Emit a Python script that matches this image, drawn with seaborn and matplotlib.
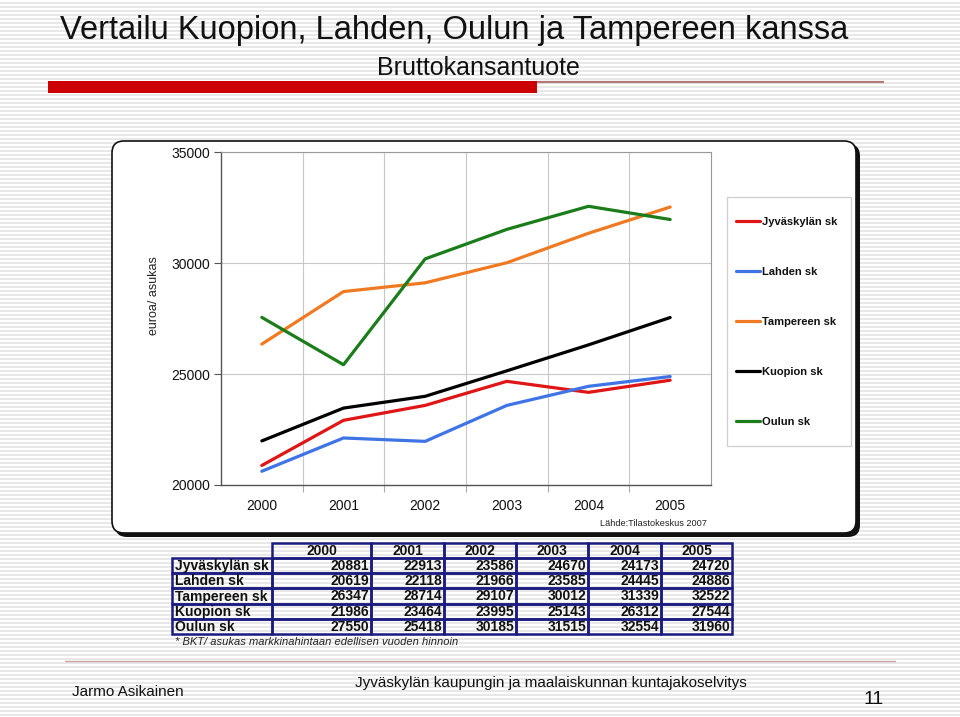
import numpy as np
import pandas as pd
import matplotlib
matplotlib.use("Agg")
import matplotlib.pyplot as plt
import seaborn as sns
from matplotlib.patches import FancyBboxPatch, Rectangle
from matplotlib.ticker import FixedLocator

# ---------------- data ----------------
years = [2000, 2001, 2002, 2003, 2004, 2005]
cities = ["Jyväskylän sk", "Lahden sk", "Tampereen sk", "Kuopion sk", "Oulun sk"]
jyvaskyla = [20881, 22913, 23586, 24670, 24173, 24720]
lahti = [20619, 22118, 21966, 23585, 24445, 24886]
tampere = [26347, 28714, 29107, 30012, 31339, 32522]
kuopio = [21986, 23464, 23995, 25143, 26312, 27544]
oulu = [27550, 25418, 30185, 31515, 32554, 31960]
series = [jyvaskyla, lahti, tampere, kuopio, oulu]
colors = ["#e01515", "#3f74e6", "#f07a22", "#000000", "#1a7d1a"]
y_ticks = [20000, 25000, 30000, 35000]

title = "Vertailu Kuopion, Lahden, Oulun ja Tampereen kanssa"
subtitle = "Bruttokansantuote"
ylabel = "euroa/ asukas"
source = "Lähde:Tilastokeskus 2007"
footnote = "* BKT/ asukas markkinahintaan edellisen vuoden hinnoin"
footer_left = "Jarmo Asikainen"
footer_mid = "Jyväskylän kaupungin ja maalaiskunnan kuntajakoselvitys"
page_no = "11"

df = pd.DataFrame({
    "Vuosi": np.tile(years, len(cities)),
    "Kunta": np.repeat(cities, len(years)),
    "BKT": np.concatenate([np.array(s) for s in series]),
})

# ---------------- style ----------------
sns.set_theme(style="white")
plt.rcParams["font.family"] = ["Liberation Sans", "DejaVu Sans"]

W, H = 960, 717
fig = plt.figure(figsize=(W / 100, H / 100), dpi=100)


def fx(px):
    return px / W


def fy(py):
    return 1 - py / H


# background axes in pixel coordinates
bg = fig.add_axes([0, 0, 1, 1], zorder=-10)
bg.set_xlim(0, W)
bg.set_ylim(H, 0)
bg.axis("off")
stripes = np.array([[1.0] if (i % 4) < 2 else [0.91] for i in range(H)])
bg.imshow(stripes, cmap="gray", vmin=0, vmax=1, aspect="auto",
          extent=(0, W, H, 0), interpolation="nearest")

# title & subtitle
bg.text(60, 31, title, fontsize=23.5, va="center", ha="left", color="#111111")
bg.text(478, 68, subtitle, fontsize=18, va="center", ha="center", color="#111111")
# red bar
bg.add_patch(Rectangle((48, 81), 489, 12, facecolor="#cc0000", edgecolor="none"))
bg.plot([537, 884], [81.8, 81.8], color="#b07a7a", lw=1.6, solid_capstyle="butt")

# chart box with shadow
bg.add_patch(FancyBboxPatch((115, 144), 745, 393, boxstyle="round,pad=0,rounding_size=12",
                            facecolor="#111111", edgecolor="none"))
bg.add_patch(FancyBboxPatch((112, 141), 744, 392, boxstyle="round,pad=0,rounding_size=12",
                            facecolor="white", edgecolor="#111111", lw=1.2))
# legend box
bg.add_patch(Rectangle((727, 197), 124, 249, facecolor="white", edgecolor="#cfcfcf", lw=0.9))
bg.text(707, 523, source, fontsize=6.6, ha="right", va="center", color="#222222")

# footer
bg.plot([65, 895], [661, 661], color="#c9a6a6", lw=1.0)
bg.text(72, 692, footer_left, fontsize=11, ha="left", va="center", color="#111111")
bg.text(355, 683, footer_mid, fontsize=11, ha="left", va="center", color="#111111")
bg.text(884, 700, page_no, fontsize=14, ha="right", va="center", color="#111111")

# ---------------- main plot ----------------
ax = fig.add_axes([fx(221), fy(485), (711 - 221) / W, (485 - 152) / H])
sns.lineplot(data=df, x="Vuosi", y="BKT", hue="Kunta", palette=dict(zip(cities, colors)),
             hue_order=cities, linewidth=2.3, ax=ax, errorbar=None)
ax.set_xlim(years[0] - 0.5, years[-1] + 0.5)
ax.set_ylim(y_ticks[0], y_ticks[-1])
ax.set_xticks(years)
ax.set_xticklabels([str(y) for y in years])
ax.xaxis.set_minor_locator(FixedLocator([y + 0.5 for y in years[:-1]]))
ax.set_yticks(y_ticks)
ax.set_yticklabels([str(v) for v in y_ticks])
ax.set_facecolor("white")
ax.grid(False)
ax.grid(axis="y", which="major", color="#c8c8c8", lw=0.8)
ax.grid(axis="x", which="minor", color="#c8c8c8", lw=0.8)
ax.tick_params(axis="y", which="major", length=5, width=0.8, color="#555555", left=True,
               labelsize=10, pad=3, labelcolor="#111111")
ax.tick_params(axis="x", which="major", length=0, labelsize=10, pad=10, labelcolor="#111111")
ax.tick_params(axis="x", which="minor", length=5, width=0.8, color="#aaaaaa", bottom=True)
for s in ["left", "bottom"]:
    ax.spines[s].set_color("#555555")
    ax.spines[s].set_linewidth(1.0)
for s in ["top", "right"]:
    ax.spines[s].set_color("#999999")
    ax.spines[s].set_linewidth(0.8)
ax.set_xlabel("")
ax.set_ylabel(ylabel, fontsize=9, color="#222222")
ax.yaxis.set_label_coords(-0.125, 0.57)

handles, labels = ax.get_legend_handles_labels()
leg = ax.legend(handles, labels, loc="upper left", bbox_to_anchor=(fx(736), fy(217)),
                bbox_transform=fig.transFigure, frameon=False, borderpad=0, borderaxespad=0,
                handlelength=2.2, handletextpad=0.15, labelspacing=3.6,
                prop={"size": 8, "weight": "bold"})
for t in leg.get_texts():
    t.set_color("#111111")
for h in leg.get_lines():
    h.set_linewidth(2.3)

# ---------------- table ----------------
col_edges = [172, 272, 371, 444, 516, 588, 661, 732]
row_top, head_bot, row_bot = 543, 558, 634
tab = fig.add_axes([0, 0, 1, 1], zorder=5)
tab.set_xlim(0, W)
tab.set_ylim(H, 0)
tab.axis("off")
navy = "#1c1c80"
row_h = (row_bot - head_bot) / len(cities)
for x0, x1 in zip(col_edges[1:-1], col_edges[2:]):
    tab.add_patch(Rectangle((x0, row_top), x1 - x0, head_bot - row_top, fill=False, edgecolor=navy, lw=1.8))
for i, yv in enumerate(years):
    cx = (col_edges[i + 1] + col_edges[i + 2]) / 2
    tab.text(cx, (row_top + head_bot) / 2 + 0.5, str(yv), ha="center", va="center",
             fontsize=10, weight="bold", color="#111111")
for r, (city, vals) in enumerate(zip(cities, series)):
    y0 = head_bot + r * row_h
    for c in range(len(col_edges) - 1):
        tab.add_patch(Rectangle((col_edges[c], y0), col_edges[c + 1] - col_edges[c], row_h,
                                fill=False, edgecolor=navy, lw=1.8))
    tab.text(col_edges[0] + 3, y0 + row_h / 2 + 0.5, city, ha="left", va="center",
             fontsize=10, weight="bold", color="#111111")
    for c, v in enumerate(vals):
        tab.text(col_edges[c + 2] - 2, y0 + row_h / 2 + 0.5, str(v), ha="right", va="center",
                 fontsize=10, weight="bold", color="#111111")
tab.text(175, 642, footnote, ha="left", va="center", fontsize=8, style="italic", color="#222222")

fig.savefig("out.png", dpi=100)
